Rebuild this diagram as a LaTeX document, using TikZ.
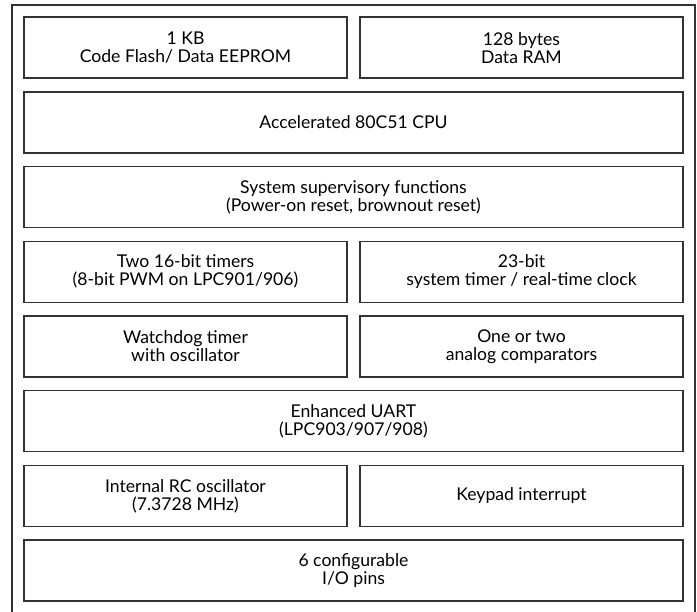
\documentclass[tikz,border=0pt]{standalone}
\usepackage{fontspec}
\setmainfont{Lato}
\usepackage{tikz}
\usetikzlibrary{positioning}
\tikzset{blk/.style={draw=black!80,line width=1.5pt,minimum height=61pt,inner sep=0pt,align=center,font=\fontsize{17.6}{18}\selectfont},
  full/.style={blk,minimum width=659pt},
  half/.style={blk,minimum width=323pt}}

\begin{document}
\begin{tikzpicture}[x=1pt,y=-1pt]
    \useasboundingbox (0,0) rectangle (697,612);
    \draw [black!80,line width=1.5pt] (12,614) -- (12,5) -- (695,5) -- (695,614);

    \node[half] (flash) at (185.5,47.7) {1 KB\\Code Flash/ Data EEPROM};
    \node[half] (ram) at (521.5,47.7) {128 bytes\\Data RAM};
    \node[full] (cpu) at (353.5,122.4) {Accelerated 80C51 CPU};
    \node[full] (sup) at (353.5,197.1) {System supervisory functions\\(Power-on reset, brownout reset)};
    \node[half] (tmr) at (185.5,271.8) {Two 16-bit timers\\(8-bit PWM on LPC901/906)};
    \node[half] (rtc) at (521.5,271.8) {23-bit\\system timer / real-time clock};
    \node[half] (wdt) at (185.5,346.5) {Watchdog timer\\with oscillator};
    \node[half] (cmp) at (521.5,346.5) {One or two\\analog comparators};
    \node[full] (uart) at (353.5,421.2) {Enhanced UART\\(LPC903/907/908)};
    \node[half] (osc) at (185.5,495.9) {Internal RC oscillator\\(7.3728 MHz)};
    \node[half] (kbi) at (521.5,495.9) {Keypad interrupt};
    \node[full] (io) at (353.5,570.6) {6 configurable\\I/O pins};
\end{tikzpicture}
\end{document}
